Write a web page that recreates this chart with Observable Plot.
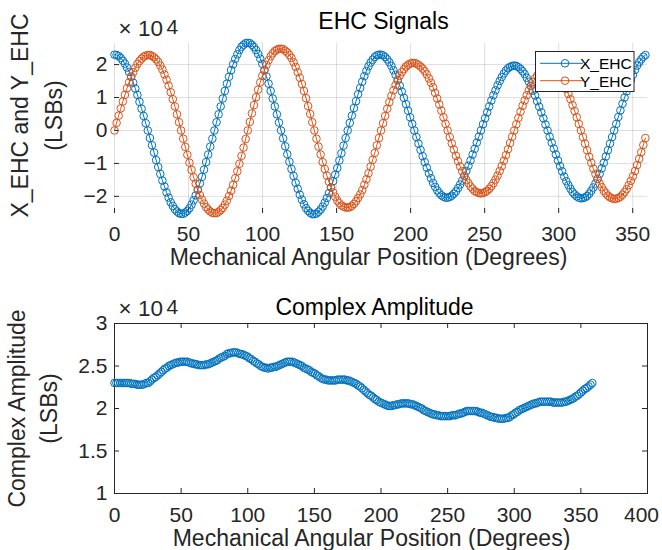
<!DOCTYPE html>
<html><head><meta charset="utf-8">
<script src="https://cdn.jsdelivr.net/npm/d3@7"></script>
<script src="https://cdn.jsdelivr.net/npm/@observablehq/plot@0.6"></script>
<style>
body{margin:0;background:#fff;}
#chart{position:relative;width:662px;height:550px;font-family:"Liberation Sans",Arial,Helvetica,sans-serif;}
#chart svg{position:absolute;left:0;}
</style></head><body><div id="chart"></div>
<script>
// Sampling grid: 256 samples per mechanical revolution
const angleStep = 1.40625; // degrees

// Values in units of 10^4 LSBs
const xEHC = [
2.30,2.29,2.26,2.20,2.12,2.03,1.91,1.78,1.63,1.45,1.27,1.08,0.87,0.66,0.44,0.22,
0,-0.23,-0.45,-0.67,-0.90,-1.11,-1.32,-1.52,-1.70,-1.88,-2.04,-2.18,-2.29,-2.39,-2.46,-2.51,
-2.53,-2.53,-2.49,-2.44,-2.36,-2.25,-2.12,-1.97,-1.80,-1.61,-1.41,-1.19,-0.96,-0.73,-0.49,-0.25,
0,0.25,0.49,0.73,0.97,1.20,1.42,1.63,1.83,2.01,2.17,2.31,2.44,2.54,2.60,2.65,
2.66,2.65,2.60,2.53,2.44,2.32,2.18,2.02,1.83,1.64,1.42,1.20,0.97,0.73,0.49,0.24,
0,-0.24,-0.48,-0.72,-0.95,-1.17,-1.38,-1.59,-1.77,-1.95,-2.10,-2.24,-2.36,-2.44,-2.50,-2.54,
-2.54,-2.52,-2.47,-2.40,-2.31,-2.19,-2.05,-1.90,-1.73,-1.54,-1.34,-1.14,-0.91,-0.69,-0.46,-0.23,
0,0.23,0.45,0.68,0.89,1.10,1.29,1.48,1.65,1.81,1.95,2.06,2.15,2.23,2.28,2.30,
2.30,2.28,2.23,2.16,2.07,1.96,1.83,1.69,1.53,1.36,1.18,0.99,0.80,0.60,0.40,0.20,
0,-0.20,-0.40,-0.59,-0.78,-0.96,-1.13,-1.30,-1.45,-1.59,-1.71,-1.82,-1.90,-1.97,-2.01,-2.04,
-2.04,-2.02,-1.98,-1.92,-1.85,-1.75,-1.64,-1.52,-1.38,-1.23,-1.07,-0.91,-0.73,-0.56,-0.37,-0.19,
0,0.19,0.37,0.55,0.73,0.91,1.07,1.22,1.37,1.50,1.62,1.73,1.82,1.89,1.93,1.96,
1.97,1.96,1.92,1.87,1.80,1.71,1.60,1.48,1.35,1.21,1.06,0.89,0.72,0.55,0.37,0.18,
0,-0.19,-0.37,-0.55,-0.73,-0.91,-1.08,-1.24,-1.40,-1.54,-1.66,-1.77,-1.87,-1.94,-2.00,-2.04,
-2.06,-2.05,-2.03,-1.99,-1.92,-1.83,-1.73,-1.61,-1.47,-1.32,-1.15,-0.98,-0.79,-0.60,-0.40,-0.20,
0,0.20,0.41,0.61,0.81,1.00,1.19,1.36,1.53,1.69,1.84,1.97,2.07,2.16,2.24,2.29
];
const yEHC = [
0,0.23,0.45,0.67,0.88,1.08,1.28,1.46,1.63,1.77,1.90,2.02,2.11,2.18,2.24,2.27,
2.29,2.29,2.26,2.22,2.16,2.08,1.97,1.85,1.70,1.54,1.36,1.16,0.95,0.73,0.49,0.25,
0,-0.25,-0.50,-0.74,-0.98,-1.20,-1.42,-1.62,-1.80,-1.96,-2.10,-2.22,-2.33,-2.40,-2.46,-2.50,
-2.51,-2.51,-2.47,-2.42,-2.35,-2.25,-2.13,-1.99,-1.83,-1.65,-1.45,-1.24,-1.01,-0.77,-0.52,-0.26,
0,0.26,0.52,0.77,1.01,1.24,1.46,1.66,1.83,1.99,2.13,2.25,2.34,2.41,2.45,2.48,
2.48,2.47,2.42,2.37,2.29,2.20,2.07,1.93,1.77,1.60,1.41,1.20,0.98,0.74,0.50,0.25,
0,-0.25,-0.49,-0.73,-0.96,-1.17,-1.37,-1.56,-1.73,-1.88,-2.01,-2.13,-2.21,-2.28,-2.31,-2.34,
-2.34,-2.33,-2.29,-2.23,-2.15,-2.05,-1.94,-1.81,-1.65,-1.48,-1.30,-1.10,-0.89,-0.68,-0.45,-0.23,
0,0.22,0.44,0.66,0.86,1.05,1.22,1.38,1.53,1.66,1.77,1.86,1.94,1.99,2.03,2.05,
2.05,2.03,1.99,1.94,1.88,1.80,1.70,1.58,1.45,1.31,1.14,0.97,0.79,0.60,0.40,0.20,
0,-0.20,-0.39,-0.58,-0.77,-0.93,-1.09,-1.24,-1.38,-1.50,-1.60,-1.70,-1.77,-1.84,-1.87,-1.90,
-1.91,-1.90,-1.87,-1.83,-1.77,-1.69,-1.60,-1.49,-1.37,-1.23,-1.08,-0.92,-0.75,-0.57,-0.38,-0.19,
0,0.19,0.38,0.57,0.75,0.91,1.07,1.22,1.35,1.47,1.58,1.67,1.75,1.80,1.84,1.87,
1.88,1.88,1.85,1.82,1.77,1.70,1.62,1.52,1.40,1.26,1.11,0.95,0.77,0.59,0.40,0.20,
0,-0.20,-0.40,-0.60,-0.80,-0.98,-1.16,-1.32,-1.47,-1.61,-1.72,-1.83,-1.91,-1.98,-2.03,-2.06,
-2.08,-2.07,-2.05,-2.01,-1.95,-1.87,-1.78,-1.66,-1.53,-1.39,-1.23,-1.05,-0.86,-0.66,-0.44,-0.23
];
const complexAmp = [
2.30,2.30,2.30,2.30,2.30,2.30,2.30,2.30,2.30,2.29,2.29,2.29,2.28,2.28,2.28,2.28,
2.29,2.30,2.30,2.32,2.34,2.36,2.37,2.39,2.41,2.43,2.45,2.47,2.48,2.50,2.51,2.52,
2.53,2.54,2.54,2.55,2.55,2.55,2.55,2.55,2.54,2.53,2.53,2.52,2.52,2.51,2.51,2.51,
2.51,2.52,2.52,2.53,2.54,2.55,2.56,2.57,2.59,2.60,2.61,2.62,2.64,2.65,2.65,2.66,
2.66,2.66,2.65,2.64,2.64,2.63,2.62,2.61,2.59,2.58,2.56,2.55,2.53,2.52,2.50,2.49,
2.48,2.48,2.47,2.48,2.48,2.49,2.49,2.50,2.51,2.52,2.53,2.54,2.55,2.55,2.55,2.55,
2.54,2.53,2.52,2.51,2.50,2.48,2.47,2.46,2.45,2.43,2.42,2.41,2.39,2.38,2.36,2.35,
2.34,2.34,2.33,2.33,2.33,2.33,2.33,2.34,2.34,2.34,2.34,2.34,2.33,2.33,2.32,2.31,
2.30,2.29,2.27,2.26,2.24,2.22,2.20,2.18,2.16,2.15,2.13,2.11,2.10,2.08,2.07,2.06,
2.05,2.04,2.03,2.03,2.03,2.04,2.04,2.05,2.05,2.06,2.06,2.06,2.06,2.06,2.05,2.05,
2.04,2.03,2.02,2.01,2.00,1.98,1.97,1.96,1.95,1.94,1.93,1.93,1.92,1.92,1.91,1.91,
1.91,1.91,1.91,1.91,1.92,1.92,1.92,1.93,1.94,1.94,1.95,1.96,1.97,1.97,1.97,1.97,
1.97,1.97,1.96,1.95,1.95,1.94,1.93,1.92,1.91,1.90,1.90,1.89,1.89,1.88,1.88,1.88,
1.88,1.89,1.89,1.90,1.92,1.93,1.95,1.96,1.98,1.99,2.00,2.01,2.02,2.03,2.04,2.05,
2.06,2.06,2.07,2.08,2.08,2.08,2.08,2.08,2.08,2.08,2.07,2.07,2.07,2.07,2.07,2.07,
2.08,2.08,2.09,2.10,2.11,2.12,2.14,2.15,2.17,2.19,2.21,2.23,2.24,2.26,2.28,2.30
];

const seriesNames = ["X_EHC", "Y_EHC"];
const xTicksTop = [0, 50, 100, 150, 200, 250, 300, 350];
const yTicksTop = [-2, -1, 0, 1, 2];
const xTicksBottom = [0, 50, 100, 150, 200, 250, 300, 350, 400];
const yTicksBottom = [1, 1.5, 2, 2.5, 3];
const titleTop = "EHC Signals";
const titleBottom = "Complex Amplitude";
const xLabel = "Mechanical Angular Position (Degrees)";
const yLabelTop = ["X_EHC and Y_EHC", "(LSBs)"];
const yLabelBottom = ["Complex Amplitude", "(LSBs)"];

const BLUE = "#0072BD", ORANGE = "#D95319", AX = "#262626";
const FONT = '"Liberation Sans", Arial, Helvetica, sans-serif';
const R = 3.8;

const rows = xEHC.map((x, i) => ({deg: i * angleStep, x, y: yEHC[i], amp: complexAmp[i]}));

const chart = document.getElementById("chart");
const style = {fontFamily: FONT, fontSize: "21px", color: AX, background: "transparent", overflow: "visible"};
const fmt = d => String(d);

function exponentMarks() {
  return [
    Plot.text(["× 10"], {text: d => d, frameAnchor: "top-left", textAnchor: "start", lineAnchor: "bottom", dx: 4, dy: -8, fontSize: 22.5, fill: AX}),
    Plot.text(["4"], {text: d => d, frameAnchor: "top-left", textAnchor: "start", lineAnchor: "bottom", dx: 52, dy: -10, fontSize: 21, fill: AX})
  ];
}

// ---------- Top subplot ----------
const topPlot = Plot.plot({
  width: 662, height: 275,
  marginLeft: 114, marginRight: 15, marginTop: 43, marginBottom: 62,
  style,
  x: {domain: [0, 360]},
  y: {domain: [-2.52, 2.64]},
  marks: [
    Plot.gridX(xTicksTop, {stroke: AX, strokeOpacity: 0.15, strokeWidth: 1}),
    Plot.gridY(yTicksTop, {stroke: AX, strokeOpacity: 0.15, strokeWidth: 1}),
    Plot.tickX(xTicksTop, {x: d => d, insetTop: 165, stroke: AX}),
    Plot.tickY(yTicksTop, {y: d => d, insetRight: 528, stroke: AX}),
    Plot.axisX(xTicksTop, {tickSize: 0, tickPadding: 13, fontSize: 21, fill: AX, stroke: AX, line: true, label: null, tickFormat: fmt}),
    Plot.axisY(yTicksTop, {tickSize: 0, tickPadding: 7, fontSize: 21, fill: AX, stroke: AX, line: true, label: null}),
    Plot.line(rows, {x: "deg", y: "x", stroke: BLUE, strokeWidth: 1}),
    Plot.dot(rows, {x: "deg", y: "x", r: R, stroke: BLUE, strokeWidth: 1, fill: "none"}),
    Plot.line(rows, {x: "deg", y: "y", stroke: ORANGE, strokeWidth: 1}),
    Plot.dot(rows, {x: "deg", y: "y", r: R, stroke: ORANGE, strokeWidth: 1, fill: "none"}),
    Plot.text([titleTop], {text: d => d, frameAnchor: "top", textAnchor: "middle", lineAnchor: "bottom", dx: 2.5, dy: -15, fontSize: 23, fill: "#000"}),
    Plot.text([xLabel], {text: d => d, frameAnchor: "bottom", textAnchor: "middle", lineAnchor: "bottom", dx: -12.5, dy: 51, fontSize: 23, fill: AX}),
    Plot.text([yLabelTop[0]], {text: d => d, frameAnchor: "left", rotate: -90, textAnchor: "middle", lineAnchor: "middle", dx: -93.5, dy: -13, fontSize: 23, fill: AX}),
    Plot.text([yLabelTop[1]], {text: d => d, frameAnchor: "left", rotate: -90, textAnchor: "middle", lineAnchor: "middle", dx: -60, dy: -13, fontSize: 23, fill: AX}),
    ...exponentMarks()
  ]
});
topPlot.style.top = "0px";
chart.appendChild(topPlot);

// ---------- Legend (overlay) ----------
const leg = d3.select(chart).append("svg")
  .attr("width", 662).attr("height", 275)
  .style("top", "0px").style("pointer-events", "none");
leg.append("rect").attr("x", 535.5).attr("y", 51.5).attr("width", 98.5).attr("height", 40)
  .attr("fill", "#fff").attr("stroke", AX).attr("stroke-width", 1);
[BLUE, ORANGE].forEach((c, i) => {
  const yy = 63.3 + i * 17.4;
  leg.append("line").attr("x1", 540).attr("x2", 583).attr("y1", yy).attr("y2", yy).attr("stroke", c).attr("stroke-width", 1);
  leg.append("circle").attr("cx", 565).attr("cy", yy).attr("r", R).attr("fill", "none").attr("stroke", c).attr("stroke-width", 1);
  leg.append("text").attr("x", 580).attr("y", yy + 6).attr("font-family", FONT).attr("font-size", 15.5)
    .attr("fill", "#000").text(seriesNames[i]);
});

// ---------- Bottom subplot ----------
const botPlot = Plot.plot({
  width: 662, height: 270,
  marginLeft: 114, marginRight: 15, marginTop: 43, marginBottom: 57,
  style,
  x: {domain: [0, 400]},
  y: {domain: [1, 3]},
  marks: [
    Plot.frame({stroke: AX, strokeWidth: 1}),
    Plot.tickX(xTicksBottom, {x: d => d, insetTop: 165, stroke: AX}),
    Plot.tickX(xTicksBottom, {x: d => d, insetBottom: 165, stroke: AX}),
    Plot.tickY(yTicksBottom, {y: d => d, insetRight: 528, stroke: AX}),
    Plot.tickY(yTicksBottom, {y: d => d, insetLeft: 528, stroke: AX}),
    Plot.axisX(xTicksBottom.slice(0, -1), {tickSize: 0, tickPadding: 14, fontSize: 21, fill: AX, label: null, tickFormat: fmt}),
    Plot.axisX(xTicksBottom.slice(-1), {tickSize: 0, tickPadding: 14, fontSize: 21, fill: AX, label: null, tickFormat: fmt, dx: -6}),
    Plot.axisY(yTicksBottom, {tickSize: 0, tickPadding: 7, fontSize: 21, fill: AX, label: null, tickFormat: fmt}),
    Plot.dot(rows, {x: "deg", y: "amp", r: R, stroke: BLUE, strokeWidth: 1, fill: "none"}),
    Plot.text([titleBottom], {text: d => d, frameAnchor: "top", textAnchor: "middle", lineAnchor: "bottom", dx: -6.5, dy: -9, fontSize: 23, fill: "#000"}),
    Plot.text([xLabel], {text: d => d, frameAnchor: "bottom", textAnchor: "middle", lineAnchor: "bottom", dx: -9.5, dy: 52, fontSize: 23, fill: AX}),
    Plot.text([yLabelBottom[0]], {text: d => d, frameAnchor: "left", rotate: -90, textAnchor: "middle", lineAnchor: "middle", dx: -97, dy: 0, fontSize: 23, fill: AX}),
    Plot.text([yLabelBottom[1]], {text: d => d, frameAnchor: "left", rotate: -90, textAnchor: "middle", lineAnchor: "middle", dx: -64.5, dy: 0, fontSize: 23, fill: AX}),
    ...exponentMarks()
  ]
});
botPlot.style.top = "280px";
chart.appendChild(botPlot);
</script>
</body></html>
